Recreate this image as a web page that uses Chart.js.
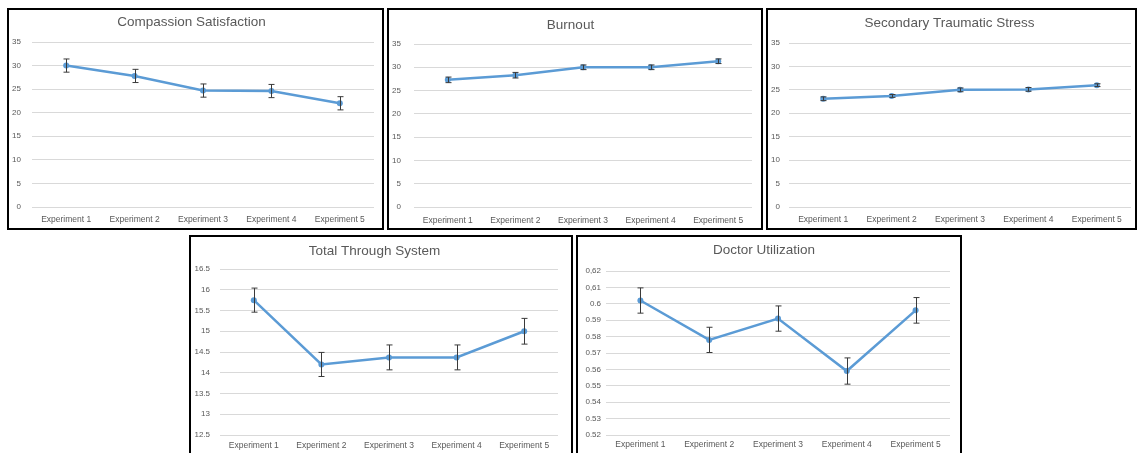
<!DOCTYPE html>
<html><head><meta charset="utf-8">
<script src="https://cdn.jsdelivr.net/npm/chart.js@4.4.1/dist/chart.umd.min.js"></script>
<style>
html,body{margin:0;padding:0;background:#fff;width:1137px;height:453px;overflow:hidden;position:relative;}
.panel{position:absolute;border:2px solid #000;box-sizing:border-box;background:#fff;}
.panel canvas{position:absolute;left:0;top:0;}
</style></head><body>
<div id="p1" class="panel"><canvas></canvas></div>
<div id="p2" class="panel"><canvas></canvas></div>
<div id="p3" class="panel"><canvas></canvas></div>
<div id="p4" class="panel"><canvas></canvas></div>
<div id="p5" class="panel"><canvas></canvas></div>
<script>
// ---- data ----
const categories = ['Experiment 1', 'Experiment 2', 'Experiment 3', 'Experiment 4', 'Experiment 5'];

const compassionMeans = [30.0, 27.8, 24.7, 24.6, 22.0];
const compassionErr   = [1.4, 1.4, 1.4, 1.4, 1.4];

const burnoutMeans = [27.3, 28.3, 30.0, 30.0, 31.3];
const burnoutErr   = [0.6, 0.6, 0.5, 0.5, 0.5];

const stsMeans = [23.1, 23.7, 25.0, 25.1, 26.0];
const stsErr   = [0.4, 0.3, 0.4, 0.4, 0.3];

const throughMeans = [15.75, 14.2, 14.37, 14.37, 15.0];
const throughErr   = [0.29, 0.29, 0.3, 0.3, 0.31];

const utilMeans = [0.602, 0.578, 0.591, 0.559, 0.596];
const utilErr   = [0.0077, 0.0077, 0.0077, 0.008, 0.0078];

const scoreTicks = [0, 5, 10, 15, 20, 25, 30, 35];
const scoreTickLabels = ['0', '5', '10', '15', '20', '25', '30', '35'];
const throughTicks = [12.5, 13, 13.5, 14, 14.5, 15, 15.5, 16, 16.5];
const throughTickLabels = ['12.5', '13', '13.5', '14', '14.5', '15', '15.5', '16', '16.5'];
const utilTicks = [0.52, 0.53, 0.54, 0.55, 0.56, 0.57, 0.58, 0.59, 0.60, 0.61, 0.62];
const utilTickLabels = ['0.52', '0.53', '0.54', '0.55', '0.56', '0.57', '0.58', '0.59', '0.6', '0,61', '0,62'];

// ---- layout (page pixels) ----
const panels = [
  {id:'p1', title:'Compassion Satisfaction', means:compassionMeans, err:compassionErr, ticks:scoreTicks, tickLabels:scoreTickLabels,
   box:[7,8,377,222], plot:[32,42,374,207], titleY:21.7, yPad:11, xPad:8},
  {id:'p2', title:'Burnout', means:burnoutMeans, err:burnoutErr, ticks:scoreTicks, tickLabels:scoreTickLabels,
   box:[387,8,376,222], plot:[414,44,752,207], titleY:24, yPad:13, xPad:8.5},
  {id:'p3', title:'Secondary Traumatic Stress', means:stsMeans, err:stsErr, ticks:scoreTicks, tickLabels:scoreTickLabels,
   box:[766,8,371,222], plot:[789,43,1131,207], titleY:22.7, yPad:9, xPad:8},
  {id:'p4', title:'Total Through System', means:throughMeans, err:throughErr, ticks:throughTicks, tickLabels:throughTickLabels,
   box:[189,235,384,222], plot:[220,269,558,435], titleY:250.3, yPad:10, xPad:6},
  {id:'p5', title:'Doctor Utilization', means:utilMeans, err:utilErr, ticks:utilTicks, tickLabels:utilTickLabels,
   box:[576,235,386,222], plot:[606,271,950,435], titleY:249.3, yPad:5, xPad:5}
];

const errorBarPlugin = {
  id: 'errorBars',
  afterDatasetsDraw(chart) {
    const ctx = chart.ctx, xs = chart.scales.x, ys = chart.scales.y;
    const ds = chart.data.datasets[0];
    ctx.save();
    ctx.strokeStyle = '#3a3a3a';
    ctx.lineWidth = 1;
    ds.data.forEach((v, i) => {
      const e = ds.errors[i];
      const x = Math.round(xs.getPixelForValue(i)) + 0.5;
      const y1 = ys.getPixelForValue(v + e), y2 = ys.getPixelForValue(v - e);
      ctx.beginPath();
      ctx.moveTo(x, y1); ctx.lineTo(x, y2);
      ctx.moveTo(x - 3, y1); ctx.lineTo(x + 3, y1);
      ctx.moveTo(x - 3, y2); ctx.lineTo(x + 3, y2);
      ctx.stroke();
    });
    ctx.restore();
  }
};

const FONT = "'Liberation Sans', Arial, sans-serif";

function makeChart(cfg) {
  const el = document.getElementById(cfg.id);
  const [bx, by, bw, bh] = cfg.box;
  Object.assign(el.style, {left: bx + 'px', top: by + 'px', width: bw + 'px', height: bh + 'px'});
  const ix = bx + 2, iy = by + 2, iw = bw - 4, ih = bh - 4;
  const canvas = el.querySelector('canvas');
  canvas.width = iw; canvas.height = ih;
  canvas.style.width = iw + 'px'; canvas.style.height = ih + 'px';
  const [pl, pt, pr, pb] = cfg.plot;
  const yW = pl - ix;
  const padRight = ix + iw - pr;
  const tSize = 13.5, tLH = tSize * 1.2;
  const titleBlock = pt - iy;
  const tPadTop = Math.max(0, cfg.titleY - iy - tLH / 2);
  const tPadBottom = Math.max(0, titleBlock - tPadTop - tLH);
  const xH = iy + ih - pb;
  new Chart(canvas, {
    type: 'line',
    data: {
      labels: categories,
      datasets: [{
        data: cfg.means, errors: cfg.err,
        borderColor: '#5B9BD5', backgroundColor: '#5B9BD5',
        borderWidth: 2.5, pointRadius: 3, pointBorderWidth: 0, pointHoverRadius: 0,
        tension: 0, fill: false
      }]
    },
    options: {
      responsive: false, animation: false, devicePixelRatio: 1,
      events: [],
      layout: {padding: {left: 0, right: padRight, top: 0, bottom: 0}},
      plugins: {
        legend: {display: false},
        tooltip: {enabled: false},
        title: {display: true, text: cfg.title, color: '#595959',
                font: {family: FONT, size: tSize, weight: 'normal'},
                padding: {top: tPadTop + 1, bottom: Math.max(0, tPadBottom - 1)}}
      },
      scales: {
        x: {
          type: 'category', offset: true,
          grid: {display: false, drawTicks: false},
          border: {display: false},
          ticks: {color: '#595959', font: {family: FONT, size: 8.5}, padding: cfg.xPad, maxRotation: 0, autoSkip: false},
          afterFit: s => { s.height = xH; }
        },
        y: {
          min: cfg.ticks[0], max: cfg.ticks[cfg.ticks.length - 1],
          grid: {color: '#D9D9D9', lineWidth: 1, drawTicks: false},
          border: {display: false},
          ticks: {color: '#595959', font: {family: FONT, size: 8}, padding: cfg.yPad,
                  callback: (v, i) => cfg.tickLabels[i]},
          afterBuildTicks: s => { s.ticks = cfg.ticks.map(v => ({value: v})); },
          afterFit: s => { s.width = yW; }
        }
      }
    },
    plugins: [errorBarPlugin]
  });
}

panels.forEach(makeChart);
</script>
</body></html>
